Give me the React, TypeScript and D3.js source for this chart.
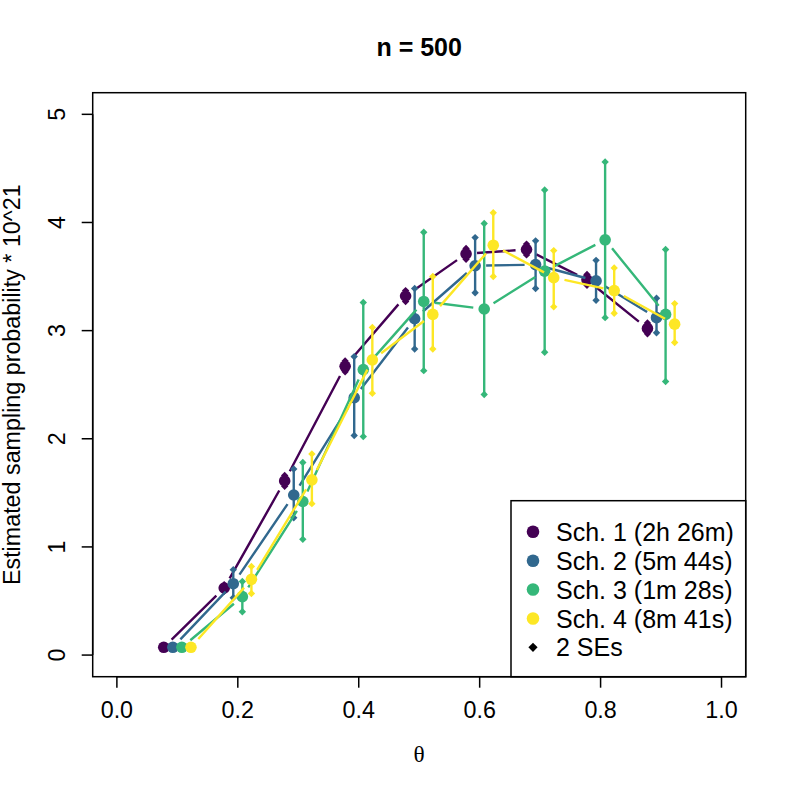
import React from "react";
import * as d3 from "d3";

const theta = [0.1, 0.2, 0.3, 0.4, 0.5, 0.6, 0.7, 0.8, 0.9];
const offsets = [-0.0225, -0.0075, 0.0075, 0.0225];
const schemeNames = ["Sch. 1 (2h 26m)", "Sch. 2 (5m 44s)", "Sch. 3 (1m 28s)", "Sch. 4 (8m 41s)"];
const colors = ["#440154", "#31688E", "#35B779", "#FDE725"];

const est1 = [0.072, 0.62, 1.61, 2.67, 3.32, 3.71, 3.75, 3.47, 3.02];
const lo1 = [0.062, 0.59, 1.56, 2.62, 3.27, 3.66, 3.70, 3.42, 2.97];
const hi1 = [0.082, 0.65, 1.66, 2.72, 3.37, 3.76, 3.80, 3.52, 3.07];

const est2 = [0.072, 0.66, 1.48, 2.38, 3.11, 3.60, 3.61, 3.46, 3.12];
const lo2 = [0.062, 0.53, 1.27, 2.03, 2.83, 3.35, 3.39, 3.28, 2.98];
const hi2 = [0.082, 0.79, 1.72, 2.76, 3.39, 3.86, 3.83, 3.65, 3.30];

const est3 = [0.072, 0.54, 1.42, 2.64, 3.27, 3.20, 3.55, 3.84, 3.15];
const lo3 = [0.062, 0.40, 1.07, 2.02, 2.63, 2.41, 2.80, 3.12, 2.53];
const hi3 = [0.082, 0.68, 1.78, 3.26, 3.91, 3.99, 4.30, 4.56, 3.75];

const est4 = [0.072, 0.70, 1.62, 2.73, 3.15, 3.79, 3.49, 3.37, 3.06];
const lo4 = [0.062, 0.57, 1.40, 2.42, 2.83, 3.50, 3.22, 3.16, 2.89];
const hi4 = [0.082, 0.82, 1.86, 3.03, 3.50, 4.09, 3.74, 3.58, 3.25];

const xTicks = [0, 0.2, 0.4, 0.6, 0.8, 1.0];
const yTicks = [0, 1, 2, 3, 4, 5];

const series = [
  { est: est1, lo: lo1, hi: hi1 },
  { est: est2, lo: lo2, hi: hi2 },
  { est: est3, lo: lo3, hi: hi3 },
  { est: est4, lo: lo4, hi: hi4 },
];

const FONT = "'Liberation Sans', Arial, Helvetica, sans-serif";

function diamond(cx: number, cy: number, h: number) {
  return `M${cx},${cy - h}L${cx + h},${cy}L${cx},${cy + h}L${cx - h},${cy}Z`;
}

export default function App() {
  const L = 92.7, R = 745.7, T = 92.7, B = 676.7;
  const x = d3.scaleLinear().domain([-0.04, 1.04]).range([L, R]);
  const y = d3.scaleLinear().domain([-0.2, 5.2]).range([B, T]);
  const gap = 11;
  const lw = 2.4;
  const AF = 23.3;

  const segs = (pts: [number, number][]) => {
    const out: string[] = [];
    for (let i = 0; i < pts.length - 1; i++) {
      const [x0, y0] = pts[i];
      const [x1, y1] = pts[i + 1];
      const d = Math.hypot(x1 - x0, y1 - y0);
      if (d <= 2 * gap) continue;
      const ux = (x1 - x0) / d, uy = (y1 - y0) / d;
      out.push(`M${x0 + ux * gap},${y0 + uy * gap}L${x1 - ux * gap},${y1 - uy * gap}`);
    }
    return out.join("");
  };

  const legendRows = [531.7, 560.7, 589.5, 618.5, 647.3];

  return (
    <svg width={793} height={793} style={{ position: "absolute", left: 0, top: 0, background: "#fff" }} fontFamily={FONT}>
      <rect x={0} y={0} width={793} height={793} fill="#fff" />
      {/* title */}
      <text x={(L + R) / 2} y={56} textAnchor="middle" fontSize={25} fontWeight="bold">n = 500</text>

      {/* series */}
      {series.map((s, si) => {
        const pts: [number, number][] = theta.map((t, i) => [x(t + offsets[si]), y(s.est[i])]);
        return (
          <g key={si}>
            {theta.map((t, i) => {
              const cx = x(t + offsets[si]);
              return (
                <g key={i}>
                  <line x1={cx} x2={cx} y1={y(s.lo[i])} y2={y(s.hi[i])} stroke={colors[si]} strokeWidth={lw} />
                  <path d={diamond(cx, y(s.lo[i]), 3.7)} fill={colors[si]} />
                  <path d={diamond(cx, y(s.hi[i]), 3.7)} fill={colors[si]} />
                </g>
              );
            })}
            <path d={segs(pts)} stroke={colors[si]} strokeWidth={lw} fill="none" />
            {pts.map((p, i) => (
              <circle key={i} cx={p[0]} cy={p[1]} r={5.8} fill={colors[si]} />
            ))}
          </g>
        );
      })}

      {/* box */}
      <rect x={L} y={T} width={R - L} height={B - T} fill="none" stroke="#000" strokeWidth={1.5} />

      {/* x axis */}
      <line x1={x(0)} x2={x(1)} y1={B} y2={B} stroke="#000" strokeWidth={1.5} />
      {xTicks.map((t) => (
        <g key={t}>
          <line x1={x(t)} x2={x(t)} y1={B} y2={B + 11} stroke="#000" strokeWidth={1.5} />
          <text x={x(t)} y={718.3} textAnchor="middle" fontSize={AF}>{d3.format(".1f")(t)}</text>
        </g>
      ))}
      <text x={(L + R) / 2} y={762} textAnchor="middle" fontSize={AF} fontFamily="'Liberation Serif', 'DejaVu Serif', serif">θ</text>

      {/* y axis */}
      <line x1={L} x2={L} y1={y(0)} y2={y(5)} stroke="#000" strokeWidth={1.5} />
      {yTicks.map((t) => (
        <g key={t}>
          <line x1={L - 11} x2={L} y1={y(t)} y2={y(t)} stroke="#000" strokeWidth={1.5} />
          <text transform={`translate(65,${y(t)}) rotate(-90)`} textAnchor="middle" fontSize={AF}>{t}</text>
        </g>
      ))}
      <text transform={`translate(20,${(T + B) / 2}) rotate(-90)`} textAnchor="middle" fontSize={AF}>
        Estimated sampling probability * 10^21
      </text>

      {/* legend */}
      <rect x={511} y={500.7} width={R - 511} height={B - 500.7} fill="#fff" stroke="#000" strokeWidth={1.5} />
      {schemeNames.map((n, i) => (
        <g key={n}>
          <circle cx={533} cy={legendRows[i]} r={6.3} fill={colors[i]} />
          <text x={556} y={legendRows[i] + 9} fontSize={25}>{n}</text>
        </g>
      ))}
      <path d={diamond(533, legendRows[4], 4.6)} fill="#000" />
      <text x={556} y={legendRows[4] + 9} fontSize={25}>2 SEs</text>
    </svg>
  );
}
